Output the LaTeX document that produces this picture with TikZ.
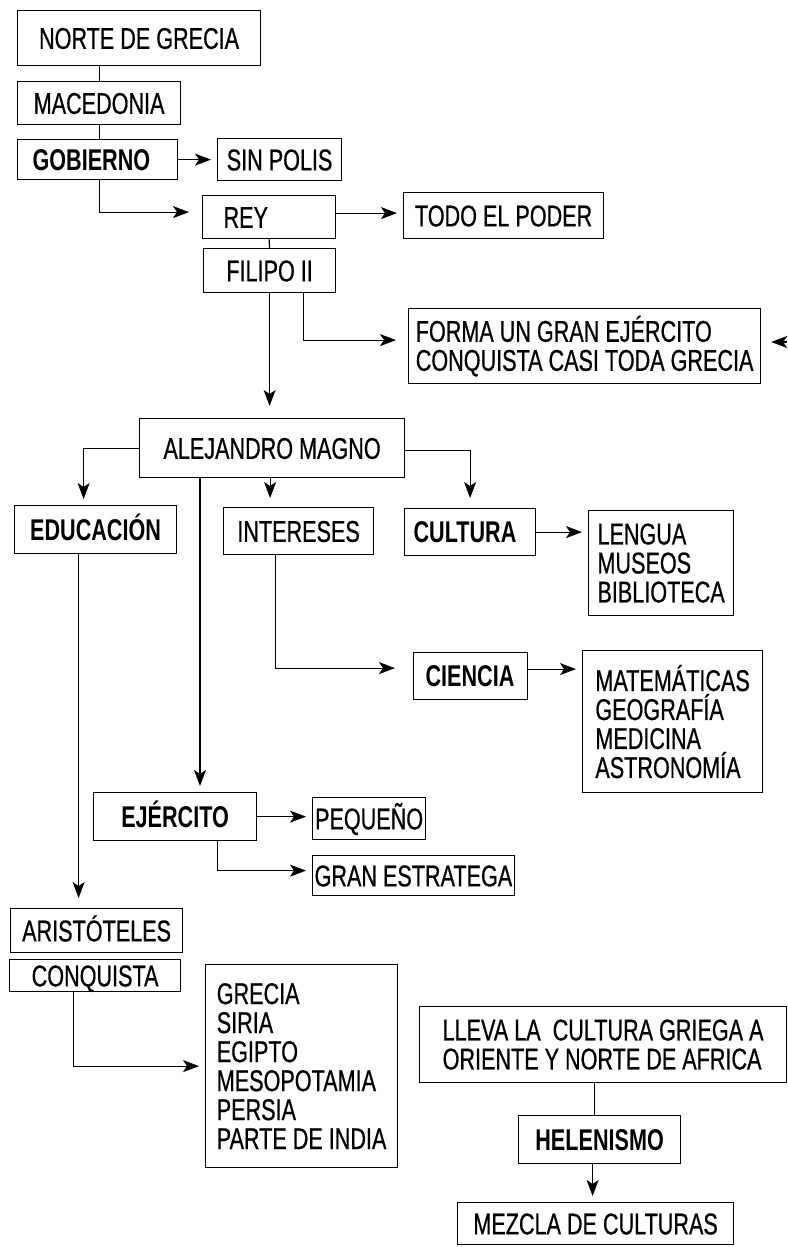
\documentclass[tikz,border=0pt]{standalone}
\usepackage{fontspec}
\setmainfont{Liberation Sans}[FakeStretch=0.72, UprightFeatures={FakeBold=0.6}]
\usepackage{tikz}
\usetikzlibrary{arrows.meta, positioning, calc}

\begin{document}
\begin{tikzpicture}[
    x=1pt, y=-1pt,
    every node/.style={font=\fontsize{30}{29}\selectfont},
    box/.style={
        rectangle,
        draw=black,
        line width=1.2pt,
        anchor=north west,
        inner sep=2pt,
        text height=21.5pt,
        text depth=0pt
    },
    keybox/.style={
        box,
        font=\fontsize{30}{29}\selectfont\bfseries
    },
    listbox/.style={
        rectangle,
        draw=black,
        line width=1.2pt,
        anchor=north west,
        inner sep=2pt,
        align=left
    },
    myarrow/.style={
        -{Stealth[length=16pt, width=12pt, inset=4pt]},
        line width=1.2pt,
        shorten >=6pt
    },
    myline/.style={line width=1.2pt}
]

\useasboundingbox (0,0) rectangle (787,1247);

% Nodes - top column
\node[box, minimum width=243pt, minimum height=55pt] (norte) at (17,10) {NORTE DE GRECIA};
\node[box, minimum width=163pt, minimum height=43pt] (macedonia) at (17,81) {MACEDONIA};
\node[keybox, minimum width=160pt, minimum height=40pt, text width=130pt, inner xsep=15pt, align=left] (gobierno) at (17,139) {GOBIERNO};
\node[box, minimum width=124pt, minimum height=42pt] (sinpolis) at (217,138) {SIN POLIS};
\node[box, minimum width=133pt, minimum height=43pt, text width=91pt, inner xsep=21pt, align=left] (rey) at (202,195) {REY};
\node[box, minimum width=200pt, minimum height=46pt] (poder) at (403,192) {TODO EL PODER};
\node[box, minimum width=132pt, minimum height=44pt] (filipo) at (203,248) {FILIPO II};
\node[listbox, minimum width=352pt, minimum height=75pt] (ejercitogrande) at (408,308) {FORMA UN GRAN EJÉRCITO\\CONQUISTA CASI TODA GRECIA};

% Nodes - Alejandro and branches
\node[box, minimum width=265pt, minimum height=59pt] (alejandro) at (139,418) {ALEJANDRO MAGNO};
\node[keybox, minimum width=162pt, minimum height=48pt] (educacion) at (14,505) {EDUCACIÓN};
\node[box, minimum width=150pt, minimum height=47pt] (intereses) at (223,507) {INTERESES};
\node[keybox, minimum width=131pt, minimum height=47pt, text width=113pt, inner xsep=9pt, align=left] (cultura) at (404,508) {CULTURA};
\node[listbox, minimum width=145pt, minimum height=105pt] (lengua) at (588,510) {LENGUA\\MUSEOS\\BIBLIOTECA};
\node[keybox, minimum width=114pt, minimum height=47pt, text width=90pt, inner xsep=12pt, align=left] (ciencia) at (413,652) {CIENCIA};
\node[listbox, minimum width=180pt, minimum height=142pt] (saberes) at (582,650) {MATEMÁTICAS\\GEOGRAFÍA\\MEDICINA\\ASTRONOMÍA};
\node[keybox, minimum width=163pt, minimum height=48pt] (ejercito) at (93,792) {EJÉRCITO};
\node[box, minimum width=113pt, minimum height=42pt] (pequeno) at (312,797) {PEQUEÑO};
\node[box, minimum width=200pt, minimum height=40pt] (estratega) at (312,855) {GRAN ESTRATEGA};

% Nodes - bottom
\node[box, minimum width=172pt, minimum height=44pt] (aristoteles) at (10,908) {ARISTÓTELES};
\node[box, minimum width=171pt, minimum height=32pt] (conquista) at (9,959) {CONQUISTA};
\node[listbox, minimum width=192pt, minimum height=203pt] (paises) at (205,964) {GRECIA\\SIRIA\\EGIPTO\\MESOPOTAMIA\\PERSIA\\PARTE DE INDIA};
\node[listbox, minimum width=367pt, minimum height=76pt] (lleva) at (419,1006) {LLEVA LA\ \ CULTURA GRIEGA A\\ORIENTE Y NORTE DE AFRICA};
\node[keybox, minimum width=162pt, minimum height=48pt] (helenismo) at (518,1115) {HELENISMO};
\node[box, minimum width=276pt, minimum height=42pt] (mezcla) at (457,1202) {MEZCLA DE CULTURAS};

% Arrows - top
\draw[myline] (macedonia.north |- norte.south) -- (macedonia.north);
\draw[myline] (macedonia.south) -- (macedonia.south |- gobierno.north);
\draw[myarrow] (gobierno.east) -- (gobierno.east -| sinpolis.west);
\draw[myarrow, shorten >=13pt] (macedonia.south |- gobierno.south) |- ([yshift=5pt]rey.west);
\draw[myarrow] ([yshift=4pt]rey.east) -- ([yshift=4pt]rey.east -| poder.west);
\draw[myline] (rey.south) -- (filipo.north);
\draw[myarrow, shorten >=12pt] (filipo.south) -- (filipo.south |- alejandro.north);
\draw[myarrow, shorten >=12pt] ([xshift=34pt]filipo.south) |- ([yshift=6pt]ejercitogrande.west);
\coordinate (rimright) at (787,342);
\draw[myarrow, shorten >=0pt] (rimright) -- ([xshift=10pt]ejercitogrande.east |- rimright);

% Arrows - Alejandro
\draw[myarrow] (alejandro.west) -| ([xshift=-12pt]educacion.north);
\draw[myarrow] ([xshift=61pt]alejandro.south west) -- ([xshift=61pt]alejandro.south west |- ejercito.north);
\draw[myarrow, shorten >=9pt] ([xshift=-2pt]alejandro.south) -- ([xshift=-2pt]alejandro.south |- intereses.north);
\draw[myarrow, shorten >=10pt] ([yshift=-2pt]alejandro.east) -| (cultura.north);
\draw[myarrow] (cultura.east) -- (cultura.east -| lengua.west);
\draw[myarrow, shorten >=10pt] ([xshift=-17pt]educacion.south) -- ([xshift=-17pt]educacion.south |- aristoteles.north);
\draw[myarrow, shorten >=18pt] ([xshift=-23pt]intereses.south) |- ([yshift=8pt]ciencia.west);
\draw[myarrow] ([yshift=7pt]ciencia.east) -- ([yshift=7pt]ciencia.east -| saberes.west);
\draw[myarrow] (ejercito.east) -- (ejercito.east -| pequeno.west);
\draw[myarrow] ([xshift=42pt]ejercito.south) |- ([yshift=5pt]estratega.west);

% Arrows - bottom
\draw[myarrow] ([xshift=-22pt]conquista.south) |- (paises.west);
\draw[myline] ([xshift=-5pt]helenismo.north |- lleva.south) -- ([xshift=-5pt]helenismo.north);
\draw[myarrow] ([xshift=-7pt]helenismo.south) -- ([xshift=-7pt]helenismo.south |- mezcla.north);

\end{tikzpicture}
\end{document}
